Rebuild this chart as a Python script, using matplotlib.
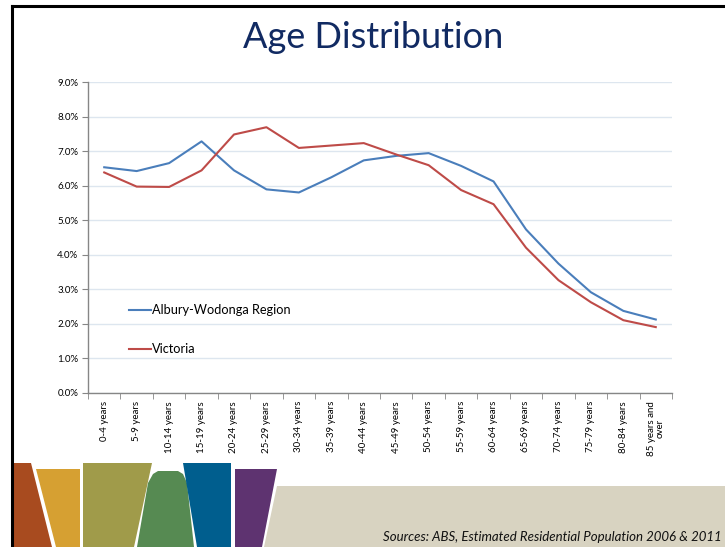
import matplotlib.pyplot as plt
from matplotlib.patches import Polygon
from matplotlib.ticker import FuncFormatter, FixedLocator

plt.rcParams["font.family"] = ["Lato", "DejaVu Sans"]

W, H = 725, 547

age_groups = [
    "0-4 years", "5-9 years", "10-14 years", "15-19 years", "20-24 years",
    "25-29 years", "30-34 years", "35-39 years", "40-44 years", "45-49 years",
    "50-54 years", "55-59 years", "60-64 years", "65-69 years", "70-74 years",
    "75-79 years", "80-84 years", "85 years and\nover",
]
albury_wodonga = [
    0.0653, 0.0642, 0.0665, 0.0728, 0.0644, 0.0589, 0.0580, 0.0624, 0.0673,
    0.0686, 0.0694, 0.0657, 0.0612, 0.0473, 0.0374, 0.0291, 0.0237, 0.0212,
]
victoria = [
    0.0638, 0.0597, 0.0596, 0.0644, 0.0748, 0.0769, 0.0709, 0.0716, 0.0723,
    0.0690, 0.0659, 0.0587, 0.0546, 0.0420, 0.0326, 0.0262, 0.0210, 0.0190,
]
series_names = ["Albury-Wodonga Region", "Victoria"]


def px(x, y):
    return (x / W, 1 - y / H)


def poly(fig, pts, color):
    fig.add_artist(Polygon([px(x, y) for x, y in pts], closed=True,
                           transform=fig.transFigure, facecolor=color,
                           edgecolor="none", zorder=0))


fig = plt.figure(figsize=(W / 100, H / 100), dpi=100)

# slide decoration along the bottom
poly(fig, [(277, 486), (W, 486), (W, H), (264, H)], "#d8d3c1")
poly(fig, [(13, 463), (31, 463), (52, H), (13, H)], "#a84b1f")
poly(fig, [(36, 469), (80, 469), (80, H), (56, H)], "#d6a032")
poly(fig, [(83, 463), (152, 463), (134, H), (83, H)], "#a09b4a")
poly(fig, [(148, 483), (153, 474), (158, 471), (178, 471), (183, 474), (187, 483),
           (194, H), (137, H)], "#568a52")
poly(fig, [(183, 463), (231, 463), (231, H), (197, H)], "#005e8e")
poly(fig, [(235, 469), (277, 469), (262, H), (235, H)], "#5e3370")

# slide border
fig.add_artist(plt.Line2D([12 / W, 12 / W], [0, 1 - 6 / H], color="black",
                          lw=2.2, transform=fig.transFigure))
fig.add_artist(plt.Line2D([12 / W, 1], [1 - 6 / H, 1 - 6 / H], color="black",
                          lw=2.2, transform=fig.transFigure))

fig.text(373 / W, 1 - 38 / H, "Age Distribution", ha="center", va="center",
         fontsize=26, color="#112a62")
fig.text(722 / W, 1 - 537 / H,
         "Sources: ABS, Estimated Residential Population 2006 & 2011",
         ha="right", va="center", fontsize=9.5, style="italic", color="#111111")

ax = fig.add_axes([88 / W, 1 - 392.7 / H, (672 - 88) / W, (392.7 - 82) / H])
x = list(range(len(age_groups)))
ax.plot(x, albury_wodonga, color="#4a7ebb", lw=1.5, label=series_names[0])
ax.plot(x, victoria, color="#be4b48", lw=1.5, label=series_names[1])

ax.set_xlim(-0.5, len(age_groups) - 0.5)
ax.set_ylim(0, 0.09)
ax.set_yticks([i / 100 for i in range(10)])
ax.yaxis.set_major_formatter(FuncFormatter(lambda v, _: f"{v * 100:.1f}%"))
ax.grid(axis="y", color="#dde6ef", lw=1)
ax.set_axisbelow(True)

ax.set_xticks(x)
ax.set_xticklabels(age_groups, rotation=90, fontsize=7, va="top",
                   ha="center", linespacing=0.95)
ax.xaxis.set_minor_locator(FixedLocator([i - 0.5 for i in range(len(age_groups) + 1)]))
ax.tick_params(axis="x", which="major", length=0, pad=6)
ax.tick_params(axis="x", which="minor", length=4, color="#868686", direction="out")
ax.tick_params(axis="y", labelsize=7, length=4, color="#868686", pad=3)

for side in ["top", "right"]:
    ax.spines[side].set_visible(False)
for side in ["left", "bottom"]:
    ax.spines[side].set_color("#868686")
    ax.spines[side].set_linewidth(1)

ax.legend(loc="upper left", bbox_to_anchor=px(123, 298), bbox_transform=fig.transFigure,
          frameon=False, fontsize=9.2, handlelength=1.7, handletextpad=0.1,
          labelspacing=2.1, borderpad=0)

fig.savefig("out.png", dpi=100)
